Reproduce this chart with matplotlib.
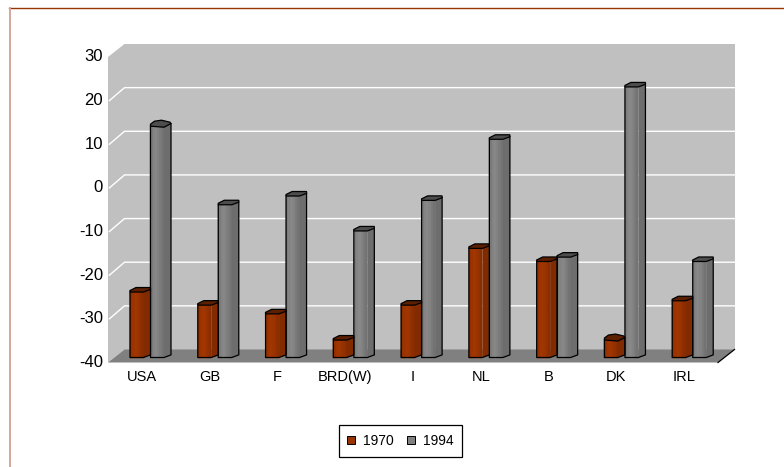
import matplotlib
matplotlib.use('Agg')
import matplotlib.pyplot as plt
from matplotlib.patches import Patch

countries = ['USA', 'GB', 'F', 'BRD(W)', 'I', 'NL', 'B', 'DK', 'IRL']
y1970 = [-25, -28, -30, -36, -28, -15, -18, -36, -27]
y1994 = [13, -5, -3, -11, -4, 10, -17, 22, -18]
yticks = [-40, -30, -20, -10, 0, 10, 20, 30]

W, H = 784, 467
plt.rcParams['font.family'] = ['Liberation Sans', 'DejaVu Sans']

fig = plt.figure(figsize=(W / 100, H / 100), dpi=100)
# axes = front plane of the fake 3d box
ax = fig.add_axes([108 / W, 1 - 362.5 / H, 610 / W, 305.5 / H])
ax.set_xlim(0, len(countries))
ax.set_ylim(-40, 30)
ax.axis('off')

px = len(countries) / 610   # one pixel in x data units
py = 70 / 305.5             # one pixel in y data units
wall_dx = 16.5 * px
wall_dy = 13 * py

# left wall, back wall, floor
ax.fill([0, wall_dx, wall_dx, 0], [-40, -40 + wall_dy, 30 + wall_dy, 30], color='#c0c0c0', lw=0, clip_on=False)
ax.fill([wall_dx, 9 + wall_dx, 9 + wall_dx, wall_dx], [-40 + wall_dy, -40 + wall_dy, 30 + wall_dy, 30 + wall_dy],
        color='#c0c0c0', lw=0, clip_on=False)
ax.fill([0, wall_dx, 9 + wall_dx, 9], [-40, -40 + wall_dy, -40 + wall_dy, -40], color='#808080', lw=0, clip_on=False)
ax.plot([9, 9 + wall_dx], [-40, -40 + wall_dy], color='black', lw=0.9, clip_on=False)

for t in yticks[1:-1]:
    ax.plot([0.02, wall_dx, 9 + wall_dx], [t, t + wall_dy, t + wall_dy], color='white', lw=1.0, clip_on=False)

# bar bits, sizes in pixels
face_w = 13.5 * px
side_w = 7 * px
side_h = 2.6 * py
base_dy = 5 * py


def lighter(c, f):
    return tuple(min(1, v * f) for v in matplotlib.colors.to_rgb(c))


def bar3d(x0, val, col, rounded=False):
    y0 = -40 + base_dy
    y1 = val + base_dy
    # front face in strips so it looks a bit rounded
    shades = [0.95, 1.02, 1.06, 1.02, 0.96, 0.9]
    n = len(shades)
    for i, s in enumerate(shades):
        a = x0 + face_w * i / n
        b = x0 + face_w * (i + 1) / n
        ax.fill([a, b, b, a], [y0, y0, y1, y1], color=lighter(col, s), lw=0.3, clip_on=False, zorder=3)
    # side
    ax.fill([x0 + face_w, x0 + face_w + side_w, x0 + face_w + side_w, x0 + face_w],
            [y0, y0 + side_h, y1 + side_h, y1], color=lighter(col, 0.85), lw=0, clip_on=False, zorder=3)
    # outline
    ax.plot([x0, x0, x0 + face_w, x0 + face_w + side_w, x0 + face_w + side_w],
            [y1, y0, y0, y0 + side_h, y1 + side_h], color='black', lw=0.9, clip_on=False, zorder=4)
    # top
    if rounded:
        tx = [x0, x0 + face_w, x0 + face_w + side_w, x0 + face_w + side_w - 1 * px, x0 + 11 * px, x0 + 4 * px, x0]
        ty = [y1, y1 - 1 * py, y1 + side_h, y1 + 4 * py, y1 + 6 * py, y1 + 5 * py, y1 + 2 * py]
    else:
        tx = [x0, x0 + face_w, x0 + face_w + side_w, x0 + face_w + side_w, x0 + 6 * px, x0]
        ty = [y1, y1, y1 + side_h, y1 + 4.5 * py, y1 + 4.5 * py, y1 + 1.5 * py]
    ax.fill(tx, ty, facecolor=lighter(col, 0.6), edgecolor='black', lw=0.9, clip_on=False, zorder=4)


for i in range(len(countries)):
    x0 = i + 22 * px
    bar3d(x0, y1970[i], '#993300', rounded=countries[i] == 'DK')
    bar3d(x0 + 20.5 * px, y1994[i], '#808080', rounded=countries[i] == 'USA')

for i, c in enumerate(countries):
    ax.text(i + 0.5, -40 - 14.5 * py, c, ha='center', va='center', fontsize=10.5, color='black', clip_on=False)
for t in yticks:
    ax.text(-5 * px, t, str(t), ha='right', va='center', fontsize=12, color='black', clip_on=False)

# outer frame, open on the right
fig.add_artist(plt.Line2D([9 / W, 1], [1 - 8.3 / H, 1 - 8.3 / H], color='#993300', lw=1))
fig.add_artist(plt.Line2D([10 / W, 10 / W], [0, 1 - 8.3 / H], color='#d0a89c', lw=1.4))

handles = [Patch(facecolor='#993300', edgecolor='black', lw=0.7, label='1970'),
           Patch(facecolor='#808080', edgecolor='black', lw=0.7, label='1994')]
leg = fig.legend(handles=handles, ncol=2, loc='center', bbox_to_anchor=(400.5 / W, 1 - 441 / H), fontsize=10,
                 frameon=True, fancybox=False, edgecolor='black', framealpha=1, borderpad=0.62,
                 handlelength=0.58, handleheight=0.58, handletextpad=0.58, columnspacing=0.93, borderaxespad=0)
leg.get_frame().set_linewidth(0.9)

fig.savefig('out.png', dpi=100)
